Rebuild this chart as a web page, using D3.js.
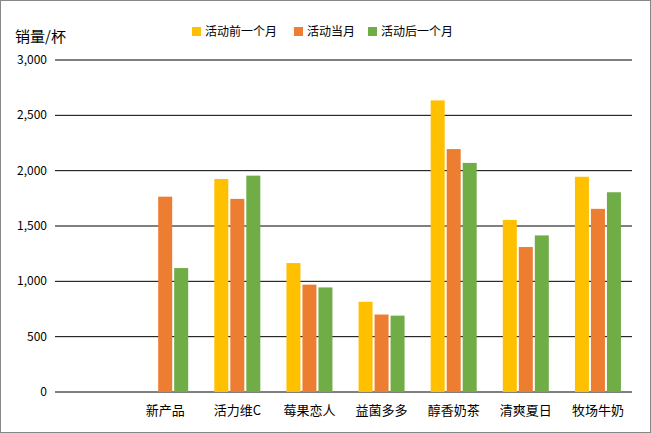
<!DOCTYPE html>
<html><head><meta charset="utf-8">
<script src="https://cdn.jsdelivr.net/npm/d3@7"></script>
<style>body{margin:0;background:#fff}svg{font-family:"Noto Sans CJK SC","Noto Sans",sans-serif}</style>
</head><body><svg id="c" width="651" height="433"></svg>
<script>
// categories (first slot is empty in the original)
const categories = ["", "新产品", "活力维C", "莓果恋人", "益菌多多", "醇香奶茶", "清爽夏日", "牧场牛奶"];
const seriesNames = ["活动前一个月", "活动当月", "活动后一个月"];
const before = [null, null, 1925, 1165, 815, 2635, 1555, 1945];
const during = [null, 1765, 1745, 970, 700, 2195, 1310, 1655];
const after = [null, 1120, 1955, 945, 690, 2070, 1415, 1805];
const colors = ["#FFC000", "#ED7D31", "#70AD47"];
const yTicks = [0, 500, 1000, 1500, 2000, 2500, 3000];

const svg = d3.select("#c");
svg.append("rect").attr("x", 0.5).attr("y", 0.5).attr("width", 650).attr("height", 432)
  .attr("fill", "#fff").attr("stroke", "#888");

const x = d3.scaleBand().domain(d3.range(categories.length)).range([57, 634]);
const y = d3.scaleLinear().domain([0, 3000]).range([392, 60]);

// gridlines + tick labels
svg.selectAll(".grid").data(yTicks).join("line")
  .attr("x1", 55).attr("x2", 632).attr("y1", d => y(d)).attr("y2", d => y(d))
  .attr("stroke", "#000").attr("stroke-width", 1);
svg.selectAll(".yl").data(yTicks).join("text")
  .attr("x", 47).attr("y", d => y(d) + 4).attr("text-anchor", "end")
  .attr("font-size", 12).text(d => d3.format(",")(d));

const series = [before, during, after];
const barW = 14, gap = 2;
series.forEach((s, i) => {
  svg.append("g").selectAll("rect").data(s.map((v, j) => ({ v, j })).filter(d => d.v != null)).join("rect")
    .attr("x", d => x(d.j) + x.bandwidth() / 2 - (barW * 1.5 + gap) + i * (barW + gap))
    .attr("width", barW)
    .attr("y", d => y(d.v)).attr("height", d => y(0) - y(d.v))
    .attr("fill", colors[i]);
});

svg.selectAll(".xl").data(categories).join("text")
  .attr("x", (d, i) => x(i) + x.bandwidth() / 2).attr("y", 415)
  .attr("text-anchor", "middle").attr("font-size", 13).text(d => d);

svg.append("text").attr("x", 15).attr("y", 42).attr("font-size", 15).text("销量/杯");

// legend
const lg = svg.append("g");
seriesNames.forEach((n, i) => {
  const ox = [192, 294, 368][i];
  lg.append("rect").attr("x", ox).attr("y", 27).attr("width", 9).attr("height", 9).attr("fill", colors[i]);
  lg.append("text").attr("x", ox + 13).attr("y", 36).attr("font-size", 12).text(n);
});
</script></body></html>
